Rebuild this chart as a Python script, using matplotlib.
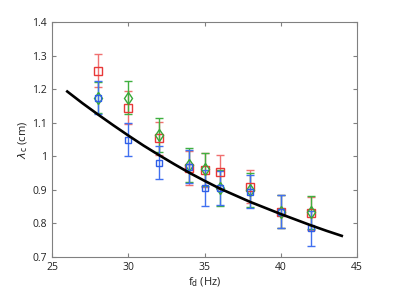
import numpy as np
import matplotlib
matplotlib.use("Agg")
import matplotlib.pyplot as plt

plt.rcParams['font.family'] = ['Open Sans', 'DejaVu Sans']
plt.rcParams['mathtext.fontset'] = 'dejavusans'

#-- Data -----------------------------------------------------
fd = [28, 30, 32, 34, 35, 36, 38, 40, 42]

red = [1.255, 1.145, 1.053, 0.965, 0.960, 0.954, 0.910, 0.835, 0.830]
red_err = [0.05, 0.048, 0.05, 0.05, 0.05, 0.05, 0.05, 0.05, 0.05]

green = [1.175, 1.175, 1.063, 0.974, 0.961, 0.905, 0.900, 0.835, 0.833]
green_err = [0.045, 0.05, 0.05, 0.05, 0.05, 0.053, 0.05, 0.05, 0.05]

blue = [1.175, 1.050, 0.981, 0.969, 0.905, 0.905, 0.895, 0.835, 0.785]
blue_err = [0.05, 0.05, 0.05, 0.05, 0.053, 0.05, 0.05, 0.05, 0.052]

# theory curve
curve_f = [26, 27, 28, 29, 30, 31, 32, 33, 34, 35,
           36, 37, 38, 39, 40, 41, 42, 43, 44]
curve_l = [1.193, 1.158, 1.125, 1.093, 1.062, 1.032, 1.004, 0.977, 0.951, 0.927,
           0.904, 0.884, 0.864, 0.846, 0.828, 0.811, 0.794, 0.778, 0.763]

#-- Plot -----------------------------------------------------
fig = plt.figure(figsize=(3.95, 3.01), dpi=100)
ax = fig.add_axes([52/395, 44/301, 305/395, 235/301])

style = dict(fmt='none', capsize=3, elinewidth=1, capthick=1)
ax.errorbar(fd, red, yerr=red_err, ecolor='#f07070', **style)
ax.errorbar(fd, green, yerr=green_err, ecolor='#40b040', **style)
ax.errorbar(fd, blue, yerr=blue_err, ecolor='#4070f0', **style)

ax.plot(fd, red, 's', ms=5.5, mfc='none', mec='#e83838', mew=1)
ax.plot(fd, green, 'd', ms=6, mfc='none', mec='#38a838', mew=1)
ax.plot(fd, blue, 's', ms=4.5, mfc='none', mec='#2e5ee8', mew=1)

ax.plot(curve_f, curve_l, color='black', lw=1.9)

ax.set_xlim(25, 45)
ax.set_ylim(0.7, 1.4)
ax.set_xticks([25, 30, 35, 40, 45])
ax.set_yticks(np.arange(0.7, 1.41, 0.1))
ax.set_yticklabels(['0.7', '0.8', '0.9', '1', '1.1', '1.2', '1.3', '1.4'])

for s in ax.spines.values():
    s.set_color('#808080')
    s.set_linewidth(0.8)
ax.tick_params(direction='in', top=True, right=True, length=3,
               color='#808080', labelsize=7.5, labelcolor='#222222')

ax.set_xlabel(r'f$_\mathrm{d}$ (Hz)', fontsize=8, color='#222222', labelpad=2)
ax.set_ylabel(r'$\lambda_\mathrm{c}$ (cm)', fontsize=8, color='#222222', labelpad=2)

fig.savefig('out.png', dpi=100)
